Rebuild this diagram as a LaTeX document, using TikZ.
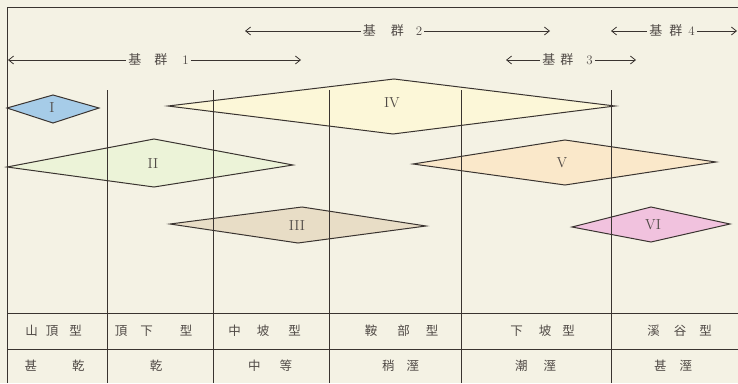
\documentclass[tikz,border=0pt]{standalone}
\usepackage{fontspec}
\newfontfamily\cjk{Noto Sans CJK TC}
\usetikzlibrary{arrows.meta}
\definecolor{bg}{RGB}{244,242,228}
\definecolor{ink}{RGB}{58,52,48}
\definecolor{txt}{RGB}{80,74,70}
\definecolor{fI}{RGB}{166,204,232}
\definecolor{fII}{RGB}{236,243,216}
\definecolor{fIII}{RGB}{232,221,198}
\definecolor{fIV}{RGB}{252,247,216}
\definecolor{fV}{RGB}{250,232,202}
\definecolor{fVI}{RGB}{241,194,222}
\begin{document}
\begin{tikzpicture}[x=1pt,y=-1pt,
  frame/.style={draw=ink,line width=0.9pt},
  grid/.style={draw=ink,line width=0.8pt},
  dia/.style={draw=ink,line width=1pt,line join=miter},
  num/.style={text=txt,font=\fontsize{14.5}{16}\selectfont,inner sep=0pt},
  cell/.style={text=txt,font=\fontsize{12.5}{14}\selectfont\cjk,inner sep=0pt},
  grp/.style={text=txt,font=\fontsize{13}{14}\selectfont,inner sep=2pt},
  garrow/.style={draw=ink,line width=0.8pt,-{Straight Barb[length=5pt,width=8pt]}}]
\fill[bg] (0,0) rectangle (738,383);
\useasboundingbox (0,0) rectangle (738,383);
% diamonds
\coordinate (Il) at (7,108); \coordinate (It) at (53,95); \coordinate (Ir) at (99,108); \coordinate (Ib) at (53,123);
\draw[dia,fill=fI] (Il) -- (It) -- (Ir) -- (Ib) -- cycle;
\node[num] (dI) at (52,108) {I};
\coordinate (IVl) at (168,106); \coordinate (IVt) at (394,79); \coordinate (IVr) at (615,106); \coordinate (IVb) at (393,134);
\draw[dia,fill=fIV] (IVl) -- (IVt) -- (IVr) -- (IVb) -- cycle;
\node[num] (dIV) at (392,103) {IV};
\coordinate (IIl) at (7,167); \coordinate (IIt) at (154,139); \coordinate (IIr) at (293,165); \coordinate (IIb) at (154,187);
\draw[dia,fill=fII] (IIl) -- (IIt) -- (IIr) -- (IIb) -- cycle;
\node[num] (dII) at (153,164) {II};
\coordinate (Vl) at (413,164); \coordinate (Vt) at (565,140); \coordinate (Vr) at (716,162); \coordinate (Vb) at (565,185);
\draw[dia,fill=fV] (Vl) -- (Vt) -- (Vr) -- (Vb) -- cycle;
\node[num] (dV) at (562,163) {V};
\coordinate (IIIl) at (170,224); \coordinate (IIIt) at (302,207); \coordinate (IIIr) at (426,226); \coordinate (IIIb) at (298,243);
\draw[dia,fill=fIII] (IIIl) -- (IIIt) -- (IIIr) -- (IIIb) -- cycle;
\node[num] (dIII) at (297,226) {III};
\coordinate (VIl) at (572,227); \coordinate (VIt) at (651,207); \coordinate (VIr) at (730,224); \coordinate (VIb) at (651,242);
\draw[dia,fill=fVI] (VIl) -- (VIt) -- (VIr) -- (VIb) -- cycle;
\node[num] (dVI) at (653,225) {VI};
% frame and grid
\draw[frame] (738,7) -- (7,7) -- (7,383);
\foreach \x in {107,213,329,461,611} \draw[grid] (\x,90) -- (\x,383);
\draw[grid] (7,313) -- (738,313);
\draw[grid] (7,349) -- (738,349);
% group arrows
\node[grp] (g1) at (158.5,60) {{\cjk 基}\hspace{13pt}{\cjk 群}\hspace{15pt}1};
\coordinate (g1a) at (8,60); \coordinate (g1b) at (301,60);
\draw[garrow] (g1.west) -- (g1a); \draw[garrow] (g1.east) -- (g1b);
\node[grp] (g2) at (392.5,31) {{\cjk 基}\hspace{15pt}{\cjk 群}\hspace{12pt}2};
\coordinate (g2a) at (245,31); \coordinate (g2b) at (550,31);
\draw[garrow] (g2.west) -- (g2a); \draw[garrow] (g2.east) -- (g2b);
\node[grp] (g3) at (567.5,60) {{\cjk 基}\hspace{5pt}{\cjk 群}\hspace{13pt}3};
\coordinate (g3a) at (506,60); \coordinate (g3b) at (636,60);
\draw[garrow] (g3.west) -- (g3a); \draw[garrow] (g3.east) -- (g3b);
\node[grp] (g4) at (672,31) {{\cjk 基}\hspace{7pt}{\cjk 群}\hspace{6pt}4};
\coordinate (g4a) at (611,31); \coordinate (g4b) at (737,31);
\draw[garrow] (g4.west) -- (g4a); \draw[garrow] (g4.east) -- (g4b);
% table row 1
\node[cell] (t11) at (53.5,331) {山\hspace{8pt}頂\hspace{11pt}型};
\node[cell] (t12) at (153.5,331) {頂\hspace{13pt}下\hspace{27pt}型};
\node[cell] (t13) at (264.5,331) {中\hspace{16pt}坡\hspace{19pt}型};
\node[cell] (t14) at (401.5,331) {鞍\hspace{20pt}部\hspace{16pt}型};
\node[cell] (t15) at (542.5,331) {下\hspace{16pt}坡\hspace{11pt}型};
\node[cell] (t16) at (679.5,331) {溪\hspace{14pt}谷\hspace{13pt}型};
% table row 2
\node[cell] (t21) at (54.5,366) {甚\hspace{35pt}乾};
\node[cell] (t22) at (156,366) {乾};
\node[cell] (t23) at (270,366) {中\hspace{19pt}等};
\node[cell] (t24) at (400.5,366) {稍\hspace{12pt}溼};
\node[cell] (t25) at (535.5,366) {潮\hspace{16pt}溼};
\node[cell] (t26) at (673,366) {甚\hspace{13pt}溼};
\end{tikzpicture}
\end{document}
